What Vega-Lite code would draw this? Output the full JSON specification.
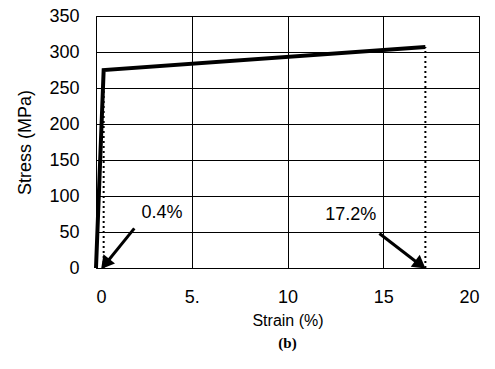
{
  "$schema": "https://vega.github.io/schema/vega-lite/v6.json",
  "width": 383,
  "height": 252,
  "autosize": {"type": "none"},
  "padding": {"left": 96, "top": 16, "right": 16, "bottom": 101},
  "background": "white",
  "title": {"text": "(b)", "orient": "bottom", "font": "Liberation Serif", "fontWeight": "bold", "fontSize": 15, "color": "black", "offset": 8, "anchor": "middle"},
  "datasets": {
    "curve": [{"x": 0, "y": 0}, {"x": 0.4, "y": 275}, {"x": 17.2, "y": 307}],
    "drops": [{"x": 0.4, "y": 0, "y2": 275}, {"x": 17.2, "y": 0, "y2": 307}],
    "arrows": [{"x": 2.0, "y": 55, "x2": 0.6, "y2": 9}, {"x": 14.8, "y": 48, "x2": 16.8, "y2": 7}],
    "heads": [{"x": 0.55, "y": 8, "angle": 219}, {"x": 16.85, "y": 6.5, "angle": 127}],
    "labels": [{"x": 3.45, "y": 76, "label": "0.4%"}, {"x": 13.3, "y": 74, "label": "17.2%"}]
  },
  "encoding": {
    "x": {"field": "x", "type": "quantitative", "scale": {"domain": [0, 20], "nice": false}, "axis": {"values": [0, 5, 10, 15, 20], "title": "Strain (%)", "labelExpr": "datum.value == 5 ? '5.' : datum.label", "titleFontSize": 16}},
    "y": {"field": "y", "type": "quantitative", "scale": {"domain": [0, 350], "nice": false}, "axis": {"values": [0, 50, 100, 150, 200, 250, 300, 350], "title": "Stress (MPa)", "titleFontSize": 18}}
  },
  "layer": [
    {
      "data": {"name": "drops"},
      "mark": {"type": "rule", "color": "black", "strokeWidth": 2, "strokeDash": [2, 3]},
      "encoding": {"y2": {"field": "y2"}}
    },
    {
      "data": {"name": "curve"},
      "mark": {"type": "line", "color": "black", "strokeWidth": 4},
      "encoding": {}
    },
    {
      "data": {"name": "arrows"},
      "mark": {"type": "rule", "color": "black", "strokeWidth": 3},
      "encoding": {"x2": {"field": "x2"}, "y2": {"field": "y2"}}
    },
    {
      "data": {"name": "heads"},
      "mark": {"type": "point", "shape": "triangle", "filled": true, "color": "black", "size": 220, "opacity": 1},
      "encoding": {"angle": {"field": "angle", "type": "quantitative", "scale": null}}
    },
    {
      "data": {"name": "labels"},
      "mark": {"type": "text", "font": "Liberation Sans", "fontSize": 18, "color": "black", "align": "center", "baseline": "middle"},
      "encoding": {"text": {"field": "label"}}
    }
  ],
  "config": {
    "view": {"stroke": "black", "strokeWidth": 1},
    "axis": {
      "grid": true,
      "gridColor": "black",
      "gridOpacity": 1,
      "gridWidth": 1,
      "domain": false,
      "ticks": false,
      "labelFont": "Liberation Sans",
      "labelFontSize": 18,
      "labelColor": "black",
      "labelOverlap": false,
      "titleFont": "Liberation Sans",
      "titleFontWeight": "normal",
      "titleColor": "black"
    },
    "axisX": {"labelPadding": 20, "titlePadding": 6},
    "axisY": {"labelPadding": 17, "titlePadding": 14}
  }
}
